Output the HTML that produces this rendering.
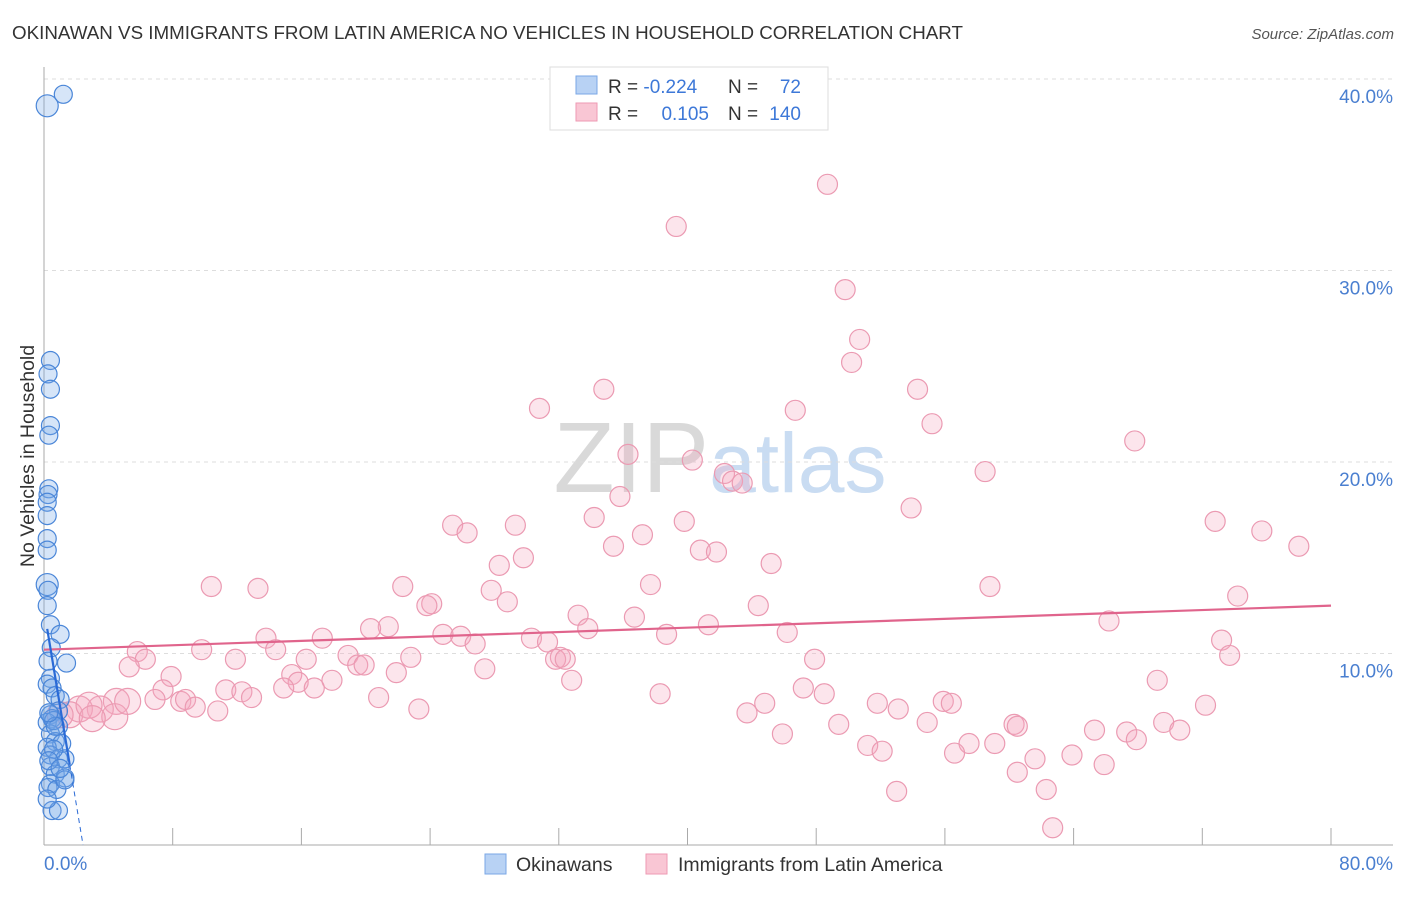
<!DOCTYPE html>
<html><head><meta charset="utf-8"><style>
body{margin:0;background:#fff;font-family:"Liberation Sans",sans-serif;}
svg text{font-family:"Liberation Sans",sans-serif;}
</style></head><body>
<svg id="chart" width="1406" height="892" xmlns="http://www.w3.org/2000/svg">
<text x="12" y="39" font-size="18" fill="#333" textLength="951" lengthAdjust="spacingAndGlyphs">OKINAWAN VS IMMIGRANTS FROM LATIN AMERICA NO VEHICLES IN HOUSEHOLD CORRELATION CHART</text>
<text x="1394" y="39" font-size="15" fill="#555" font-style="italic" text-anchor="end">Source: ZipAtlas.com</text>
<text x="720" y="492" font-size="100" text-anchor="middle" fill="#ddd" font-family="Liberation Serif"><tspan fill="#d9d9d9">ZIP</tspan><tspan fill="#c9dcf2" font-family="Liberation Sans" font-size="84">atlas</tspan></text>
<text transform="translate(34,456) rotate(-90)" font-size="19.5" fill="#333" text-anchor="middle">No Vehicles in Household</text>
<g id="grid"></g><g id="axes"></g><g id="pink"></g><g id="blue"></g><g id="trend"></g>
<g>
<rect x="550" y="67" width="278" height="63" fill="#fff" stroke="#ddd"/>
<rect x="576" y="76" width="21" height="18" fill="#b8d2f4" stroke="#7aa7e6"/>
<rect x="576" y="103" width="21" height="18" fill="#f9c6d4" stroke="#ee9ab3"/>
<text x="608" y="93" font-size="19" fill="#333">R = <tspan fill="#3d78d8">-0.224</tspan></text>
<text x="728" y="93" font-size="19" fill="#333">N =</text><text x="801" y="93" font-size="19" fill="#3d78d8" text-anchor="end">72</text>
<text x="608" y="120" font-size="19" fill="#333">R =</text><text x="709" y="120" font-size="19" fill="#3d78d8" text-anchor="end">0.105</text>
<text x="728" y="120" font-size="19" fill="#333">N =</text><text x="801" y="120" font-size="19" fill="#3d78d8" text-anchor="end">140</text>
</g>
<g>
<rect x="485" y="854" width="21" height="20" fill="#b8d2f4" stroke="#7aa7e6"/>
<text x="516" y="871" font-size="19.5" fill="#333">Okinawans</text>
<rect x="646" y="854" width="21" height="20" fill="#f9c6d4" stroke="#ee9ab3"/>
<text x="678" y="871" font-size="19.5" fill="#333">Immigrants from Latin America</text>
</g>
</svg>
<script>
const yTicks=[10,20,30,40];
const yTickLabels=["10.0%","20.0%","30.0%","40.0%"];
const xTickVals=[0,8,16,24,32,40,48,56,64,72,80];
const pinkX=[48.7,39.3,49.8,50.7,50.2,34.8,54.3,30.8,46.7,55.2,67.8,36.3,40.3,58.5,42.3,42.8,43.4,35.8,53.9,34.2,39.8,72.8,25.4,29.3,26.3,75.7,37.2,35.4,78.0,40.8,41.8,29.8,28.3,45.2,37.7,22.3,58.8,10.4,13.3,27.8,74.2,28.8,24.1,23.8,44.4,33.2,36.7,41.3,66.2,21.4,20.3,33.8,24.8,25.9,38.7,46.2,13.8,17.3,30.3,31.3,26.8,73.2,9.8,14.4,5.8,73.7,6.3,18.9,32.1,22.8,11.9,47.9,5.3,16.3,31.8,32.4,19.5,19.9,27.4,7.9,15.4,21.9,17.9,69.2,32.8,15.8,7.4,11.3,16.8,14.9,12.3,47.2,48.5,38.3,20.8,12.9,6.9,8.5,8.8,55.9,56.4,51.8,44.8,53.1,72.2,10.8,23.3,9.4,43.7,69.6,49.4,54.9,60.3,60.5,65.3,67.3,70.6,45.9,57.5,59.1,67.9,51.2,56.6,52.1,61.6,63.9,60.5,65.9,53.0,62.3,62.7,4.5,3.5,2.2,1.6,4.4,1.0,2.8,5.2,3.0];
const pinkY=[34.5,32.3,29.0,26.4,25.2,23.8,23.8,22.8,22.7,22.0,21.1,20.4,20.1,19.5,19.4,19.0,18.9,18.2,17.6,17.1,16.9,16.9,16.7,16.7,16.3,16.4,16.2,15.6,15.6,15.4,15.3,15.0,14.6,14.7,13.6,13.5,13.5,13.5,13.4,13.3,13.0,12.7,12.6,12.5,12.5,12.0,11.9,11.5,11.7,11.4,11.3,11.3,11.0,10.9,11.0,11.1,10.8,10.8,10.8,10.6,10.5,10.7,10.2,10.2,10.1,9.9,9.7,9.9,9.8,9.8,9.7,9.7,9.3,9.7,9.7,9.7,9.4,9.4,9.2,8.8,8.9,9.0,8.6,8.6,8.6,8.5,8.1,8.1,8.2,8.2,8.0,8.2,7.9,7.9,7.7,7.7,7.6,7.5,7.6,7.5,7.4,7.4,7.4,7.1,7.3,7.0,7.1,7.2,6.9,6.4,6.3,6.4,6.3,6.2,6.0,5.9,6.0,5.8,5.3,5.3,5.5,5.2,4.8,4.9,4.5,4.7,3.8,4.2,2.8,2.9,0.9,7.5,7.1,7.1,6.8,6.7,6.8,7.3,7.5,6.6];
const blueX=[1.2,0.2,0.4,0.25,0.4,0.4,0.3,0.3,0.25,0.2,0.2,0.2,0.2,0.2,0.25,0.2,0.4,1.0,0.45,1.4,0.25,0.4,0.2,0.5,0.7,1.0,0.9,0.4,0.5,0.2,0.9,0.4,0.7,1.1,0.2,0.4,0.9,1.3,0.4,0.7,1.3,0.4,0.25,0.8,1.3,0.5,0.9,0.2,0.6,0.7,0.3,0.6,0.3,1.0];
const blueY=[39.2,38.6,25.3,24.6,23.8,21.9,21.4,18.6,18.3,17.9,17.2,16.0,15.4,13.6,13.3,12.5,11.5,11.0,10.3,9.5,9.6,8.7,8.4,8.2,7.8,7.6,7.0,6.8,6.6,6.4,6.2,5.8,5.4,5.3,5.1,4.7,4.5,4.5,4.1,3.7,3.5,3.2,3.0,2.9,3.4,1.8,1.8,2.4,6.5,6.2,6.9,5.0,4.4,4.0];
const pinkTrend=[10.2,12.5];
const blueTrend=[12.3,-5.07];
const NS="http://www.w3.org/2000/svg";
const X0=44,X1=1331,Y0=845,PY=19.15;
function sx(v){return X0+v*(X1-X0)/80;}
function sy(v){return Y0-v*PY;}
function mk(tag,attrs,parent){const e=document.createElementNS(NS,tag);for(const k in attrs)e.setAttribute(k,attrs[k]);document.getElementById(parent).appendChild(e);return e;}
yTicks.forEach((t,i)=>{
 const l=mk('line',{x1:X0,x2:1393,y1:sy(t),y2:sy(t),stroke:'#ddd','stroke-dasharray':'4,4'},'grid');
 
 
 const tx=mk('text',{x:1393,y:sy(t)+24,'font-size':19,fill:'#4a7fd0','text-anchor':'end'},'grid');
 tx.textContent=yTickLabels[i];
 
 
});
let a=mk('line',{x1:X0,x2:X0,y1:67,y2:Y0,stroke:'#aaa'},'axes');


a=mk('line',{x1:X0,x2:1393,y1:Y0,y2:Y0,stroke:'#aaa'},'axes');


xTickVals.forEach(t=>{
 const l=mk('line',{x1:sx(t),x2:sx(t),y1:Y0,y2:Y0-17,stroke:'#aaa'},'axes');
 
 
});
let t0=mk('text',{x:44,y:870,'font-size':19,fill:'#4a7fd0'},'axes');t0.textContent='0.0%';


let t1=mk('text',{x:1393,y:870,'font-size':19,fill:'#4a7fd0','text-anchor':'end'},'axes');t1.textContent='80.0%';


pinkX.forEach((x,i)=>{
 const big=x<6&&pinkY[i]<8;
 const c=mk('circle',{cx:sx(x),cy:sy(pinkY[i]),r:big?13:10,fill:'rgba(246,170,192,0.3)',stroke:'#eb9ab2','stroke-width':1.2},'pink');
 
 
});
blueX.forEach((x,i)=>{
 const big=(i==1||i==13);
 const c=mk('circle',{cx:sx(x),cy:sy(blueY[i]),r:big?11:9,fill:'rgba(120,168,232,0.3)',stroke:'#4a86d8','stroke-width':1.2},'blue');
 
 
});
let pl=mk('line',{x1:sx(0),y1:sy(pinkTrend[0]),x2:sx(80),y2:sy(pinkTrend[1]),stroke:'#e0648c','stroke-width':2.2},'trend');


const bf=x=>blueTrend[0]+blueTrend[1]*x;
let bl=mk('line',{x1:sx(0.2),y1:sy(bf(0.2)),x2:sx(1.6),y2:sy(bf(1.6)),stroke:'#2a6ad6','stroke-width':2.2},'trend');


const xe=-blueTrend[0]/blueTrend[1];
let bd=mk('line',{x1:sx(1.6),y1:sy(bf(1.6)),x2:sx(xe),y2:sy(0),stroke:'#2a6ad6','stroke-width':1,'stroke-dasharray':'5,4'},'trend');


</script>
</body></html>
